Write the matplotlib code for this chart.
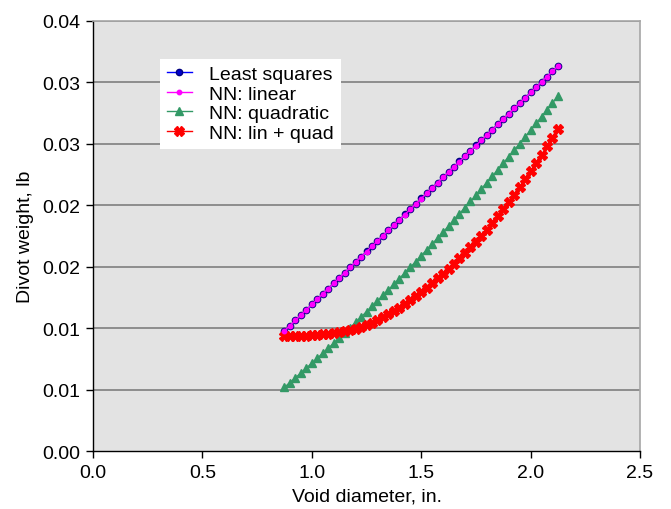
import matplotlib.pyplot as plt

plt.rcParams['font.family'] = ['Liberation Sans', 'DejaVu Sans']

# void diameter, in.
diam = [0.875, 0.900, 0.925, 0.950, 0.975, 1.000, 1.025, 1.050, 1.075, 1.100,
        1.125, 1.150, 1.175, 1.200, 1.225, 1.250, 1.275, 1.300, 1.325, 1.350,
        1.375, 1.400, 1.425, 1.450, 1.475, 1.500, 1.525, 1.550, 1.575, 1.600,
        1.625, 1.650, 1.675, 1.700, 1.725, 1.750, 1.775, 1.800, 1.825, 1.850,
        1.875, 1.900, 1.925, 1.950, 1.975, 2.000, 2.025, 2.050, 2.075, 2.100,
        2.125]

# divot weight, lb
least_sq = [0.00978, 0.01021, 0.01064, 0.01107, 0.01150, 0.01194, 0.01237, 0.01280, 0.01323, 0.01366,
            0.01409, 0.01452, 0.01495, 0.01538, 0.01581, 0.01625, 0.01668, 0.01711, 0.01754, 0.01797,
            0.01840, 0.01883, 0.01926, 0.01969, 0.02012, 0.02056, 0.02099, 0.02142, 0.02185, 0.02228,
            0.02271, 0.02314, 0.02357, 0.02400, 0.02443, 0.02487, 0.02530, 0.02573, 0.02616, 0.02659,
            0.02702, 0.02745, 0.02788, 0.02831, 0.02874, 0.02918, 0.02961, 0.03004, 0.03047, 0.03090,
            0.03133]
nn_linear = [0.00980, 0.01022, 0.01065, 0.01108, 0.01151, 0.01194, 0.01237, 0.01280, 0.01323, 0.01366,
             0.01409, 0.01452, 0.01495, 0.01538, 0.01581, 0.01624, 0.01667, 0.01710, 0.01753, 0.01796,
             0.01839, 0.01882, 0.01925, 0.01968, 0.02011, 0.02055, 0.02098, 0.02141, 0.02184, 0.02227,
             0.02270, 0.02313, 0.02356, 0.02399, 0.02442, 0.02486, 0.02529, 0.02572, 0.02615, 0.02658,
             0.02701, 0.02744, 0.02787, 0.02830, 0.02873, 0.02917, 0.02960, 0.03003, 0.03046, 0.03089,
             0.03132]
nn_quad = [0.00521, 0.00559, 0.00598, 0.00637, 0.00677, 0.00716, 0.00757, 0.00797, 0.00838, 0.00879,
           0.00921, 0.00963, 0.01005, 0.01048, 0.01091, 0.01135, 0.01179, 0.01223, 0.01268, 0.01313,
           0.01358, 0.01404, 0.01450, 0.01496, 0.01543, 0.01590, 0.01638, 0.01685, 0.01734, 0.01782,
           0.01831, 0.01881, 0.01931, 0.01981, 0.02031, 0.02082, 0.02133, 0.02185, 0.02237, 0.02289,
           0.02342, 0.02395, 0.02448, 0.02502, 0.02556, 0.02610, 0.02665, 0.02721, 0.02776, 0.02832,
           0.02889]
nn_lin_quad = [0.00935, 0.00935, 0.00936, 0.00937, 0.00939, 0.00942, 0.00946, 0.00950, 0.00955, 0.00961,
               0.00968, 0.00976, 0.00985, 0.00995, 0.01008, 0.01024, 0.01043, 0.01065, 0.01089, 0.01114,
               0.01140, 0.01168, 0.01197, 0.01228, 0.01260, 0.01294, 0.01330, 0.01367, 0.01405, 0.01444,
               0.01484, 0.01525, 0.01568, 0.01612, 0.01657, 0.01703, 0.01750, 0.01801, 0.01854, 0.01909,
               0.01966, 0.02025, 0.02086, 0.02149, 0.02213, 0.02278, 0.02344, 0.02411, 0.02479, 0.02548,
               0.02618]

x_ticks = [0.0, 0.5, 1.0, 1.5, 2.0, 2.5]
y_ticks = [0.0, 0.005, 0.010, 0.015, 0.020, 0.025, 0.030, 0.035]
y_tick_labels = ['0.00', '0.01', '0.01', '0.02', '0.02', '0.03', '0.03', '0.04']

fig = plt.figure(figsize=(6.71, 5.10), dpi=100)
ax = fig.add_axes([0.1386, 0.1131, 0.8152, 0.8442])
ax.set_facecolor('#e3e3e3')

for yv in y_ticks[1:]:
    ax.axhline(yv, color='#7f7f7f', lw=1.2, zorder=1)

ax.plot(diam, least_sq, color='#0000ff', lw=1, marker='o', ms=4.5,
        mfc='#0000cc', mec='#000080', label='Least squares', zorder=3)
ax.plot(diam, nn_linear, color='#ff00ff', lw=1, marker='o', ms=3.2,
        mfc='#ff00ff', mec='#ff00ff', label='NN: linear', zorder=4)
ax.plot(diam, nn_quad, color='#339966', lw=1, marker='^', ms=6,
        mfc='#339966', mec='#339966', label='NN: quadratic', zorder=3)
ax.plot(diam, nn_lin_quad, color='#ff0000', lw=1, marker='X', ms=7,
        mfc='#ff0000', mec='#ff0000', label='NN: lin + quad', zorder=3)

ax.set_xlim(0, 2.5)
ax.set_ylim(0, 0.035)
ax.set_xticks(x_ticks)
ax.set_xticklabels(['%.1f' % v for v in x_ticks])
ax.set_yticks(y_ticks)
ax.set_yticklabels(y_tick_labels)
ax.tick_params(direction='out', length=5, width=1, labelsize=14, colors='black', pad=4)

for s in ['top', 'right']:
    ax.spines[s].set_color('#a6a6a6')
    ax.spines[s].set_linewidth(1.2)
for s in ['left', 'bottom']:
    ax.spines[s].set_color('black')
    ax.spines[s].set_linewidth(1)

ax.set_xlabel('Void diameter, in.', fontsize=14, labelpad=5)
ax.set_ylabel('Divot weight, lb', fontsize=14, labelpad=6)

leg = ax.legend(loc='upper left', bbox_to_anchor=(0.122, 0.912), borderaxespad=0,
                fontsize=14, frameon=True, fancybox=False, framealpha=1,
                edgecolor='white', labelspacing=0.1, handlelength=1.3,
                handletextpad=0.9, borderpad=0.35, markerscale=1.0)
leg.get_frame().set_linewidth(0)
leg.get_frame().set_width(leg.get_frame().get_width())

fig.savefig('out.png', dpi=100)
